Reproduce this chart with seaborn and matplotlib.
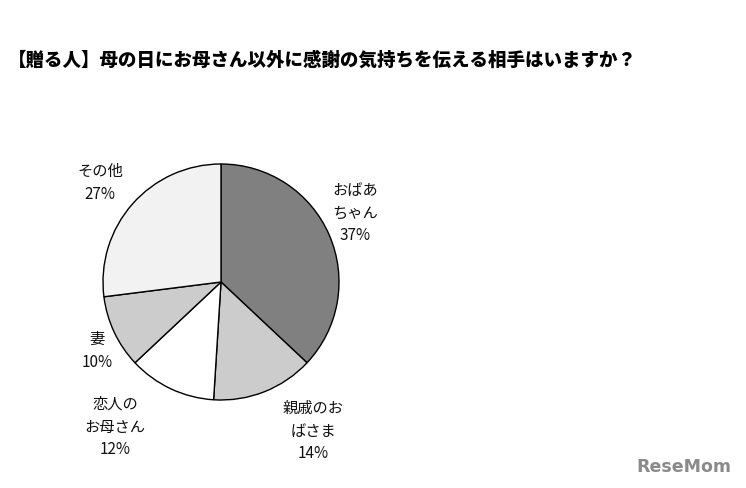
import matplotlib
matplotlib.use("Agg")
import matplotlib.pyplot as plt
import seaborn as sns

# --- data ---
categories = ["おばあ\nちゃん", "親戚のお\nばさま", "恋人の\nお母さん", "妻", "その他"]
shares = [37, 14, 12, 10, 27]
colors = ["#808080", "#cccccc", "#ffffff", "#cccccc", "#f2f2f2"]
title = "【贈る人】母の日にお母さん以外に感謝の気持ちを伝える相手はいますか？"

sns.set_theme(style="white")
plt.rcParams["font.family"] = ["Noto Sans CJK JP", "DejaVu Sans"]

W, H = 746, 489
fig = plt.figure(figsize=(W / 100, H / 100), dpi=100)
fig.patch.set_facecolor("white")

# pie axes: center (221, 283) px, radius ~118 px
cx, cy, r = 221, 283, 118
half = 150
ax = fig.add_axes([(cx - half) / W, (H - cy - half) / H, 2 * half / W, 2 * half / H])
ax.pie(shares, colors=colors, startangle=90, counterclock=False,
       radius=1.0, wedgeprops=dict(edgecolor="black", linewidth=1.0))
lim = half / r
ax.set_xlim(-lim, lim)
ax.set_ylim(-lim, lim)
ax.set_aspect("equal")
ax.axis("off")

# label block centers in pixels
label_pos = [(355, 213), (313, 431), (115, 427), (97, 351), (100, 183)]
for name, val, (px, py) in zip(categories, shares, label_pos):
    fig.text(px / W, 1 - py / H, f"{name}\n{val}%", ha="center", va="center",
             fontsize=11, linespacing=1.45, color="#111111")

fig.text(8 / W, 1 - 60 / H, title, ha="left", va="center",
         fontsize=13.3, fontweight="heavy", color="black")

# watermark
fig.text(684 / W, 1 - 467 / H, "ReseMom", ha="center", va="center",
         fontsize=12.5, fontweight="bold", color="#8a8a8a",
         family=["DejaVu Sans"])

fig.savefig("out.png", dpi=100, facecolor="white")
